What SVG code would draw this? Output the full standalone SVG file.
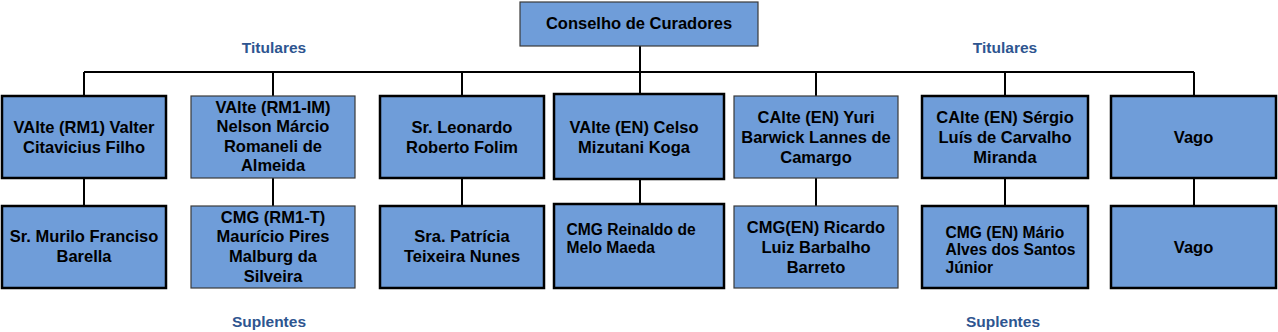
<svg xmlns="http://www.w3.org/2000/svg" width="1278" height="332" viewBox="0 0 1278 332">
<style>
  .box{fill:#6F9DD9;}
  .thick{stroke:#000;stroke-width:2.5;}
  .thin{stroke:#3a3a3a;stroke-width:1.2;}
  .t{font-family:"Liberation Sans",Arial,sans-serif;font-weight:bold;font-size:16.5px;fill:#000;text-anchor:middle;}
  .s{font-family:"Liberation Sans",Arial,sans-serif;font-weight:bold;font-size:15.6px;fill:#000;}
  .lbl{font-family:"Liberation Sans",Arial,sans-serif;font-weight:bold;font-size:15.5px;fill:#2E5590;text-anchor:middle;}
  .conn{stroke:#000;stroke-width:2;fill:none;}
</style>
<rect width="1278" height="332" fill="#fff"/>
<g id="connectors">
  <path class="conn" d="M640 46 V94 M84 72 H1194 M84 72 V96 M273 72 V96 M462 72 V96 M816 72 V96 M1005 72 V96 M1194 72 V96"/>
  <path class="conn" d="M84 178 V206 M273 178 V206 M462 178 V206 M640 179 V204 M816 178 V206 M1005 178 V206 M1194 178 V206"/>
</g>
<g id="labels">
  <text class="lbl" x="274" y="53">Titulares</text>
  <text class="lbl" x="1005" y="53">Titulares</text>
  <text class="lbl" x="269" y="327">Suplentes</text>
  <text class="lbl" x="1003" y="327">Suplentes</text>
</g>
<g id="conselho">
  <rect class="box thin" x="520" y="2" width="238" height="44"/>
  <text class="t" x="639" y="28.5">Conselho de Curadores</text>
</g>
<g id="t1">
  <rect class="box thick" x="2" y="96" width="164" height="82"/>
  <text class="t" x="84" y="132.5">VAlte (RM1) Valter</text>
  <text class="t" x="84" y="152.5">Citavicius Filho</text>
</g>
<g id="t2">
  <rect class="box thin" x="191" y="96" width="164" height="82"/>
  <text class="t" x="273" y="113">VAlte (RM1-IM)</text>
  <text class="t" x="273" y="132.3">Nelson Márcio</text>
  <text class="t" x="273" y="151.6">Romaneli de</text>
  <text class="t" x="273" y="171">Almeida</text>
</g>
<g id="t3">
  <rect class="box thick" x="380" y="96" width="164" height="82"/>
  <text class="t" x="462" y="132.5">Sr. Leonardo</text>
  <text class="t" x="462" y="152.5">Roberto Folim</text>
</g>
<g id="t4">
  <rect class="box thick" x="554" y="94" width="170" height="85"/>
  <text class="t" x="634" y="132.5">VAlte (EN) Celso</text>
  <text class="t" x="634" y="152.5">Mizutani Koga</text>
</g>
<g id="t5">
  <rect class="box thin" x="734" y="96" width="164" height="82"/>
  <text class="t" x="816" y="122.6">CAlte (EN) Yuri</text>
  <text class="t" x="816" y="142.6">Barwick Lannes de</text>
  <text class="t" x="816" y="162.6">Camargo</text>
</g>
<g id="t6">
  <rect class="box thick" x="922" y="96" width="166" height="82"/>
  <text class="t" x="1005" y="122.6">CAlte (EN) Sérgio</text>
  <text class="t" x="1005" y="142.6">Luís de Carvalho</text>
  <text class="t" x="1005" y="162.6">Miranda</text>
</g>
<g id="t7">
  <rect class="box thick" x="1111" y="96" width="165" height="82"/>
  <text class="t" x="1193.5" y="142.6">Vago</text>
</g>
<g id="s1">
  <rect class="box thick" x="2" y="206" width="164" height="82"/>
  <text class="t" x="84" y="242">Sr. Murilo Franciso</text>
  <text class="t" x="84" y="262">Barella</text>
</g>
<g id="s2">
  <rect class="box thin" x="191" y="206" width="164" height="82"/>
  <text class="t" x="273" y="222.5">CMG (RM1-T)</text>
  <text class="t" x="273" y="242">Maurício Pires</text>
  <text class="t" x="273" y="262">Malburg da</text>
  <text class="t" x="273" y="281.5">Silveira</text>
</g>
<g id="s3">
  <rect class="box thick" x="380" y="206" width="164" height="82"/>
  <text class="t" x="462" y="242">Sra. Patrícia</text>
  <text class="t" x="462" y="262">Teixeira Nunes</text>
</g>
<g id="s4">
  <rect class="box thick" x="554" y="204" width="170" height="84"/>
  <text class="s" x="566.5" y="235.3">CMG Reinaldo de</text>
  <text class="s" x="566.5" y="253.3">Melo Maeda</text>
</g>
<g id="s5">
  <rect class="box thin" x="734" y="206" width="164" height="82"/>
  <text class="t" x="816" y="232.5">CMG(EN) Ricardo</text>
  <text class="t" x="816" y="252.5">Luiz Barbalho</text>
  <text class="t" x="816" y="272.5">Barreto</text>
</g>
<g id="s6">
  <rect class="box thick" x="922" y="206" width="166" height="82"/>
  <text class="s" x="945.5" y="237.5">CMG (EN) Mário</text>
  <text class="s" x="945.5" y="255">Alves dos Santos</text>
  <text class="s" x="945.5" y="272.5">Júnior</text>
</g>
<g id="s7">
  <rect class="box thick" x="1111" y="206" width="165" height="82"/>
  <text class="t" x="1193.5" y="252.5">Vago</text>
</g>
</svg>
